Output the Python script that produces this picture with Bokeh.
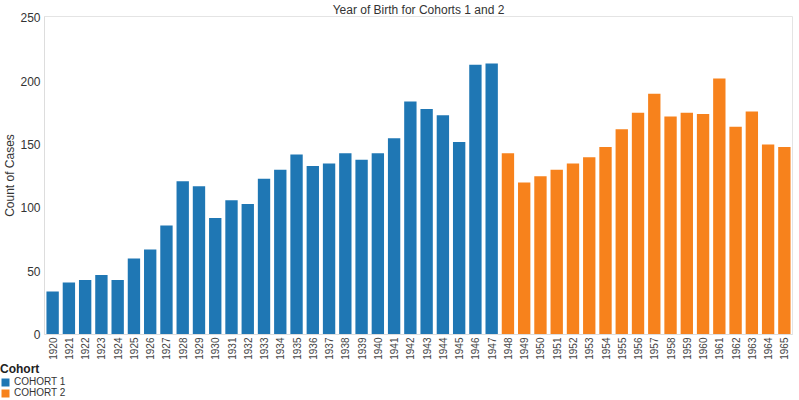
import math
from bokeh.plotting import figure
from bokeh.layouts import column
from bokeh.models import Range1d, FactorRange, Legend, LegendItem, ColumnDataSource, FixedTicker
from bokeh.embed import file_html
from bokeh.resources import INLINE

years_c1 = [str(y) for y in range(1920, 1948)]
counts_c1 = [34, 41, 43, 47, 43, 60, 67, 86, 121, 117, 92, 106, 103, 123, 130, 142,
             133, 135, 143, 138, 143, 155, 184, 178, 173, 152, 213, 214]
years_c2 = [str(y) for y in range(1948, 1966)]
counts_c2 = [143, 120, 125, 130, 135, 140, 148, 162, 175, 190, 172, 175, 174, 202,
             164, 176, 150, 148]
all_years = years_c1 + years_c2
y_ticks = [0, 50, 100, 150, 200, 250]
cohort_names = ["COHORT 1", "COHORT 2"]

BLUE = "#1F77B4"
ORANGE = "#F7821C"
FONT = "Liberation Sans"

p = figure(width=799, height=362, x_range=FactorRange(*all_years, range_padding=0),
           y_range=Range1d(0, 251), output_backend="svg", toolbar_location=None,
           min_border_left=40, min_border_right=7, min_border_top=0, min_border_bottom=27)

p.title.text = "Year of Birth for Cohorts 1 and 2"
p.title.align = "center"
p.title.text_font = FONT
p.title.text_font_size = "12px"
p.title.text_font_style = "normal"
p.title.text_color = "#333333"
p.title.standoff = 0
p.title.offset = 0

s1 = ColumnDataSource(dict(x=years_c1, top=counts_c1))
s2 = ColumnDataSource(dict(x=years_c2, top=counts_c2))
r1 = p.vbar(x="x", top="top", width=0.76, source=s1, fill_color=BLUE, line_color=None)
r2 = p.vbar(x="x", top="top", width=0.76, source=s2, fill_color=ORANGE, line_color=None)

p.xgrid.visible = False
p.ygrid.visible = False
p.outline_line_color = "#e4e4e4"

p.yaxis.ticker = FixedTicker(ticks=y_ticks)
p.yaxis.axis_label = "Count of Cases"
p.yaxis.axis_label_text_font = FONT
p.yaxis.axis_label_text_font_style = "normal"
p.yaxis.axis_label_text_font_size = "12px"
p.yaxis.axis_label_text_color = "#333333"
p.yaxis.axis_label_standoff = 0
p.yaxis.major_label_text_font = FONT
p.yaxis.major_label_text_font_size = "12px"
p.yaxis.major_label_text_color = "#333333"
p.yaxis.major_tick_line_color = None
p.yaxis.major_tick_out = 0
p.yaxis.major_tick_in = 0
p.yaxis.minor_tick_line_color = None
p.yaxis.minor_tick_out = 0
p.yaxis.axis_line_color = "#dddddd"
p.yaxis.major_label_standoff = 4

p.xaxis.major_label_orientation = math.pi / 2
p.xaxis.major_label_text_font = FONT
p.xaxis.major_label_text_font_size = "10px"
p.xaxis.major_label_text_color = "#444444"
p.xaxis.major_tick_line_color = None
p.xaxis.major_tick_out = 0
p.xaxis.major_tick_in = 0
p.xaxis.axis_line_color = "#dddddd"
p.xaxis.major_label_standoff = 3

# legend strip underneath the chart
pl = figure(width=799, height=38, x_range=FactorRange(*cohort_names), y_range=Range1d(0, 1),
            output_backend="svg", toolbar_location=None,
            x_axis_location=None, y_axis_location=None,
            min_border_left=0, min_border_right=0, min_border_top=0, min_border_bottom=0)
pl.outline_line_color = None
pl.xgrid.visible = False
pl.ygrid.visible = False
for fig in (p, pl):
    if "frame_align" in fig.properties():
        fig.frame_align = False

d1 = pl.vbar(x=[cohort_names[0]], top=[sum(counts_c1)], width=1, fill_color=BLUE,
             line_color=None, visible=False)
d2 = pl.vbar(x=[cohort_names[1]], top=[sum(counts_c2)], width=1, fill_color=ORANGE,
             line_color=None, visible=False)

legend = Legend(items=[LegendItem(label=cohort_names[0], renderers=[d1]),
                       LegendItem(label=cohort_names[1], renderers=[d2])],
                location="top_left", title="Cohort")
legend.title_text_font = FONT
legend.title_text_font_size = "12px"
legend.title_text_font_style = "bold"
legend.title_text_color = "#222222"
legend.title_standoff = 0
legend.label_text_font = FONT
legend.label_text_font_size = "10px"
legend.label_text_color = "#333333"
legend.label_height = 11
legend.glyph_height = 10
legend.glyph_width = 10
legend.label_standoff = 4
legend.spacing = 0
legend.padding = 2
legend.margin = 0
legend.border_line_color = None
legend.background_fill_alpha = 0
legend.inactive_fill_alpha = 0
pl.add_layout(legend, "center")

layout = column(p, pl, spacing=0)
open("out.html", "w").write(file_html(layout, INLINE))
